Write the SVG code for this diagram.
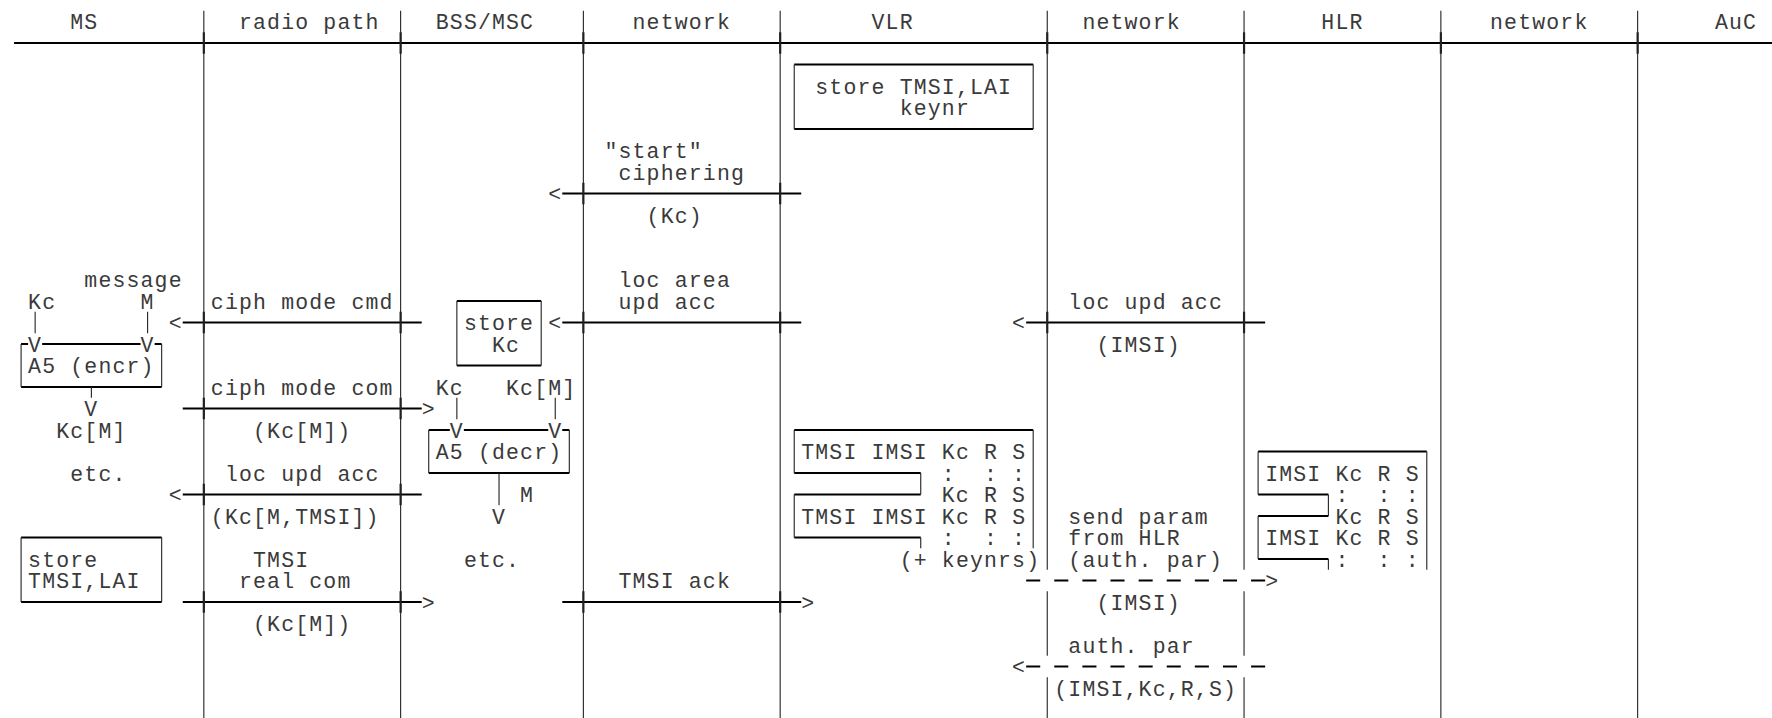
<svg xmlns="http://www.w3.org/2000/svg" width="1772" height="718" viewBox="0 0 1772 718">
<style>
text{font-family:"Liberation Mono","Courier New",monospace;font-size:21.5px;letter-spacing:1.157px;fill:#3a3a3a;white-space:pre}
.h{stroke:#000;stroke-width:2;fill:none}
.v{stroke:#222;stroke-width:1.1;fill:none}
.x{stroke:#222;stroke-width:2.2;fill:none}
.d{stroke:#000;stroke-width:2;stroke-dasharray:14.057 14.057;fill:none}
</style>
<rect width="1772" height="718" fill="#fff"/>
<g id="lanes">
<text x="70.29" y="29.1">MS</text>
<text x="238.97" y="29.1">radio path</text>
<text x="435.77" y="29.1">BSS/MSC</text>
<text x="632.57" y="29.1">network</text>
<text x="871.53" y="29.1">VLR</text>
<text x="1082.39" y="29.1">network</text>
<text x="1321.36" y="29.1">HLR</text>
<text x="1490.04" y="29.1">network</text>
<text x="1714.95" y="29.1">AuC</text>
<path class="h" d="M14.06 43.1H1772"/>
<path class="v" d="M203.83 10.85V718M400.63 10.85V718M583.37 10.85V718M780.17 10.85V718M1440.87 10.85V718M1637.64 10.85V718M1047.25 10.85V569.85M1047.25 591.35V655.85M1047.25 677.35V718M1244.05 10.85V569.85M1244.05 591.35V655.85M1244.05 677.35V718"/>
<path class="x" d="M203.83 32.35V53.85M400.63 32.35V53.85M583.37 32.35V53.85M780.17 32.35V53.85M1047.25 32.35V53.85M1244.05 32.35V53.85M1440.87 32.35V53.85M1637.64 32.35V53.85"/>
</g>
<g id="node-vlr-store">
<path class="h" d="M794.22 64.6H1033.19M794.22 129.1H1033.19"/>
<path class="v" d="M794.22 64.6V129.1M1033.19 64.6V129.1"/>
<text x="815.31" y="93.6">store TMSI,LAI</text>
<text x="899.65" y="115.1">keynr</text>
</g>
<g id="node-ms-input">
<text x="84.34" y="287.1">message</text>
<text x="28.11" y="308.6">Kc</text>
<text x="140.57" y="308.6">M</text>
<path class="v" d="M35.14 311.85V333.35M147.6 311.85V333.35"/>
</g>
<g id="node-a5-encr">
<path class="h" d="M21.09 344.1H28.11M42.17 344.1H140.57M154.63 344.1H161.66M21.09 387.1H161.66"/>
<path class="v" d="M21.09 344.1V387.1M161.66 344.1V387.1M91.37 387.1V397.85"/>
<text x="28.11" y="351.6">V</text>
<text x="140.57" y="351.6">V</text>
<text x="28.11" y="373.1">A5 (encr)</text>
<text x="84.34" y="416.1">V</text>
<text x="56.23" y="437.6">Kc[M]</text>
<text x="70.29" y="480.6">etc.</text>
</g>
<g id="node-store-kc">
<path class="h" d="M456.86 301.1H541.2M456.86 365.6H541.2"/>
<path class="v" d="M456.86 301.1V365.6M541.2 301.1V365.6"/>
<text x="463.88" y="330.1">store</text>
<text x="491.99" y="351.6">Kc</text>
</g>
<g id="node-a5-decr">
<text x="435.77" y="394.6">Kc</text>
<text x="506.05" y="394.6">Kc[M]</text>
<path class="v" d="M456.86 397.85V419.35M555.25 397.85V419.35"/>
<path class="h" d="M428.74 430.1H449.82M463.88 430.1H548.22M562.28 430.1H569.31M428.74 473.1H569.31"/>
<path class="v" d="M428.74 430.1V473.1M569.31 430.1V473.1M499.03 473.1V505.35"/>
<text x="449.82" y="437.6">V</text>
<text x="548.22" y="437.6">V</text>
<text x="435.77" y="459.1">A5 (decr)</text>
<text x="520.11" y="502.1">M</text>
<text x="491.99" y="523.6">V</text>
<text x="463.88" y="566.6">etc.</text>
</g>
<g id="node-vlr-table">
<path class="h" d="M794.22 430.1H1033.19M794.22 473.1H920.74M794.22 494.6H920.74M794.22 537.6H920.74"/>
<path class="v" d="M1033.19 430.1V548.35M794.22 430.1V473.1M920.74 473.1V494.6M794.22 494.6V537.6M920.74 537.6V548.35"/>
<text x="801.25" y="459.1">TMSI IMSI Kc R S</text>
<text x="941.82" y="480.6">:  : :</text>
<text x="941.82" y="502.1">Kc R S</text>
<text x="801.25" y="523.6">TMSI IMSI Kc R S</text>
<text x="941.82" y="545.1">:  : :</text>
<text x="899.65" y="566.6">(+ keynrs)</text>
</g>
<g id="node-hlr-table">
<path class="h" d="M1258.1 451.6H1426.79M1258.1 494.6H1328.39M1258.1 516.1H1328.39M1258.1 559.1H1328.39"/>
<path class="v" d="M1426.79 451.6V569.85M1258.1 451.6V494.6M1328.39 494.6V516.1M1258.1 516.1V559.1M1328.39 559.1V569.85"/>
<text x="1265.13" y="480.6">IMSI Kc R S</text>
<text x="1335.42" y="502.1">:  : :</text>
<text x="1335.42" y="523.6">Kc R S</text>
<text x="1265.13" y="545.1">IMSI Kc R S</text>
<text x="1335.42" y="566.6">:  : :</text>
</g>
<g id="node-ms-store">
<path class="h" d="M21.09 537.6H161.66M21.09 602.1H161.66"/>
<path class="v" d="M21.09 537.6V602.1M161.66 537.6V602.1"/>
<text x="28.11" y="566.6">store</text>
<text x="28.11" y="588.1">TMSI,LAI</text>
</g>
<g id="connectors">
<path class="h" d="M562.28 193.6H801.25M182.74 322.6H421.71M562.28 322.6H801.25M1026.16 322.6H1265.13M182.74 408.6H421.71M182.74 494.6H421.71M182.74 602.1H421.71M562.28 602.1H801.25"/>
<path class="x" d="M583.37 182.85V204.35M780.17 182.85V204.35M203.83 311.85V333.35M400.63 311.85V333.35M583.37 311.85V333.35M780.17 311.85V333.35M1047.25 311.85V333.35M1244.05 311.85V333.35M203.83 397.85V419.35M400.63 397.85V419.35M203.83 483.85V505.35M400.63 483.85V505.35M203.83 591.35V612.85M400.63 591.35V612.85M583.37 591.35V612.85M780.17 591.35V612.85"/>
<path class="d" d="M1026.16 580.6H1265.13M1026.16 666.6H1265.13"/>
<text x="548.22" y="201.1">&lt;</text>
<text x="168.68" y="330.1">&lt;</text>
<text x="548.22" y="330.1">&lt;</text>
<text x="1012.1" y="330.1">&lt;</text>
<text x="421.71" y="416.1">&gt;</text>
<text x="168.68" y="502.1">&lt;</text>
<text x="1265.13" y="588.1">&gt;</text>
<text x="421.71" y="609.6">&gt;</text>
<text x="801.25" y="609.6">&gt;</text>
<text x="1012.1" y="674.1">&lt;</text>
<text x="604.45" y="158.1">"start"</text>
<text x="618.51" y="179.6">ciphering</text>
<text x="646.62" y="222.6">(Kc)</text>
<text x="618.51" y="287.1">loc area</text>
<text x="618.51" y="308.6">upd acc</text>
<text x="210.86" y="308.6">ciph mode cmd</text>
<text x="1068.33" y="308.6">loc upd acc</text>
<text x="1096.45" y="351.6">(IMSI)</text>
<text x="210.86" y="394.6">ciph mode com</text>
<text x="253.03" y="437.6">(Kc[M])</text>
<text x="224.91" y="480.6">loc upd acc</text>
<text x="210.86" y="523.6">(Kc[M,TMSI])</text>
<text x="1068.33" y="523.6">send param</text>
<text x="1068.33" y="545.1">from HLR</text>
<text x="1068.33" y="566.6">(auth. par)</text>
<text x="253.03" y="566.6">TMSI</text>
<text x="238.97" y="588.1">real com</text>
<text x="618.51" y="588.1">TMSI ack</text>
<text x="1096.45" y="609.6">(IMSI)</text>
<text x="253.03" y="631.1">(Kc[M])</text>
<text x="1068.33" y="652.6">auth. par</text>
<text x="1054.28" y="695.6">(IMSI,Kc,R,S)</text>
</g>
</svg>
